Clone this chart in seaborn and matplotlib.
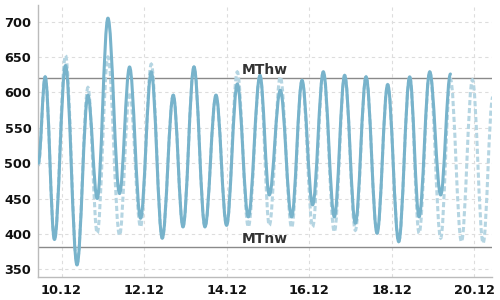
import matplotlib
matplotlib.use("Agg")
import matplotlib.pyplot as plt
import matplotlib.dates as mdates
from matplotlib.path import Path
from matplotlib.patches import PathPatch
import seaborn as sns
import pandas as pd

# Measured water level extremes (solid line)
obs_times = ["2023-12-09 10:30", "2023-12-09 14:30", "2023-12-09 19:54", "2023-12-10 02:20",
             "2023-12-10 09:00", "2023-12-10 15:22", "2023-12-10 20:46", "2023-12-11 03:00",
             "2023-12-11 09:45", "2023-12-11 15:34", "2023-12-11 21:58", "2023-12-12 04:11",
             "2023-12-12 10:35", "2023-12-12 16:59", "2023-12-12 22:38", "2023-12-13 05:02",
             "2023-12-13 11:26", "2023-12-13 17:50", "2023-12-14 00:00", "2023-12-14 06:13",
             "2023-12-14 12:37", "2023-12-14 19:25", "2023-12-15 00:50", "2023-12-15 07:14",
             "2023-12-15 13:49", "2023-12-15 19:52", "2023-12-16 02:02", "2023-12-16 08:15",
             "2023-12-16 14:39", "2023-12-16 20:39", "2023-12-17 02:52", "2023-12-17 09:06",
             "2023-12-17 15:30", "2023-12-17 21:40", "2023-12-18 04:04", "2023-12-18 10:28",
             "2023-12-18 15:56", "2023-12-18 22:07", "2023-12-19 04:30", "2023-12-19 10:09"]
obs_levels = [500, 622, 392, 638, 356, 596, 450, 705, 457, 636, 422, 629, 394, 596, 410, 636,
              410, 596, 412, 612, 424, 624, 455, 603, 424, 617, 441, 629, 424, 624, 415, 622,
              401, 611, 389, 622, 424, 629, 455, 626]

# Forecast extremes (dashed line)
fc_times = obs_times + ["2023-12-19 16:33", "2023-12-19 22:57", "2023-12-20 05:11", "2023-12-20 10:46"]
fc_levels = [497, 622, 392, 652, 358, 607, 401, 650, 398, 600, 410, 640, 394, 596, 410, 636,
             410, 596, 412, 629, 410, 624, 412, 622, 409, 617, 410, 629, 403, 624, 405, 622,
             401, 611, 389, 622, 401, 629, 394, 619, 389, 618, 387, 593]

# Reference levels
mthw = 620
mtnw = 381
ref_labels = ["MThw", "MTnw"]

tick_dates = ["2023-12-10", "2023-12-12", "2023-12-14", "2023-12-16", "2023-12-18", "2023-12-20"]
y_ticks = [350, 400, 450, 500, 550, 600, 650, 700]

obs = pd.DataFrame({"t": pd.to_datetime(obs_times), "level": obs_levels})
fc = pd.DataFrame({"t": pd.to_datetime(fc_times), "level": fc_levels})

sns.set_theme(style="white")
plt.rcParams["font.family"] = ["DejaVu Sans"]

fig = plt.figure(figsize=(5, 3), dpi=100)
ax = fig.add_axes([0.0766, 0.0777, 0.908, 0.9056])


def smooth_line(line, **style):
    """Render a seaborn line between extremes as a smooth tide curve (Bezier mark)."""
    xy = line.get_xydata()
    verts = [tuple(xy[0])]
    codes = [Path.MOVETO]
    k = 0.363
    for (x0, y0), (x1, y1) in zip(xy[:-1], xy[1:]):
        dx = x1 - x0
        verts += [(x0 + k * dx, y0), (x1 - k * dx, y1), (x1, y1)]
        codes += [Path.CURVE4] * 3
    patch = PathPatch(Path(verts, codes), facecolor="none", transform=line.get_transform(), **style)
    ax.add_patch(patch)
    line.set_visible(False)


sns.lineplot(data=fc, x="t", y="level", ax=ax, color="#b5d5e2", linewidth=2.2)
smooth_line(ax.lines[-1], edgecolor="#b5d5e2", linewidth=2.2, linestyle=(0, (1.7, 0.9)),
            capstyle="butt", zorder=2)
sns.lineplot(data=obs, x="t", y="level", ax=ax, color="#78b3cb", linewidth=2.2)
smooth_line(ax.lines[-1], edgecolor="#78b3cb", linewidth=2.2, capstyle="round",
            joinstyle="round", zorder=3)

ax.axhline(mthw, color="#8a8a8a", linewidth=1.0, zorder=1)
ax.axhline(mtnw, color="#8a8a8a", linewidth=1.0, zorder=1)
ax.text(0.5, mthw + 2, ref_labels[0], transform=ax.get_yaxis_transform(), ha="center", va="bottom",
        fontsize=10, color="#333333", fontweight="bold", zorder=4)
ax.text(0.5, mtnw + 2, ref_labels[1], transform=ax.get_yaxis_transform(), ha="center", va="bottom",
        fontsize=10, color="#333333", fontweight="bold", zorder=4)

ax.set_xlim(pd.Timestamp("2023-12-09 10:30"), pd.Timestamp("2023-12-20 10:30"))
ax.set_ylim(339.5, 723.5)
ax.set_xticks(pd.to_datetime(tick_dates))
ax.xaxis.set_major_formatter(mdates.DateFormatter("%d.%m"))
ax.set_yticks(y_ticks)
ax.set_xlabel("")
ax.set_ylabel("")

ax.grid(True, color="#dddddd", linestyle=(0, (3, 3)), linewidth=0.8)
ax.set_axisbelow(True)
for s in ["top", "right"]:
    ax.spines[s].set_visible(False)
for s in ["left", "bottom"]:
    ax.spines[s].set_color("#bbbbbb")
    ax.spines[s].set_linewidth(1.0)
ax.tick_params(axis="both", length=0, pad=5, labelsize=9.3, labelcolor="#111111")
for lab in ax.get_xticklabels() + ax.get_yticklabels():
    lab.set_fontweight("bold")

fig.savefig("out.png", dpi=100)
